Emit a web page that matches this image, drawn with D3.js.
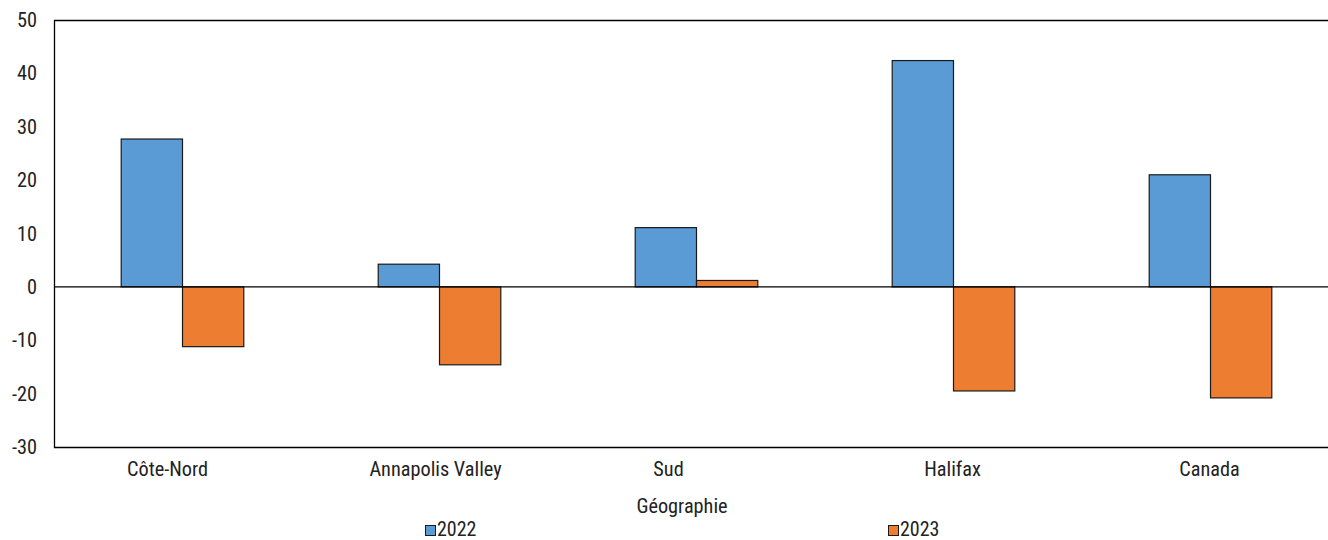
<!DOCTYPE html>
<html><head><meta charset="utf-8">
<script src="https://cdn.jsdelivr.net/npm/d3@7"></script>
<style>body{margin:0;background:#fff}svg{display:block}text{font-family:"Roboto Condensed","Liberation Sans Narrow",Roboto,sans-serif;fill:#222}</style>
</head><body>
<svg id="c" width="1328" height="540"></svg>
<script>
const categories = ["Côte-Nord","Annapolis Valley","Sud","Halifax","Canada"];
const seriesNames = ["2022","2023"];
const values2022 = [27.7, 4.25, 11.1, 42.4, 21.0];
const values2023 = [-11.2, -14.6, 1.2, -19.5, -20.8];
const yTicks = [-30,-20,-10,0,10,20,30,40,50];
const colors = ["#5B9BD5","#ED7D31"];

const FONT = '"Roboto Condensed","Liberation Sans Narrow",Roboto,sans-serif';
const FS = 20.3;
const svg = d3.select("#c");
const L = 54, R = 1339, T = 20, B = 447;
const x = d3.scaleBand().domain(categories).range([L,R]).paddingInner(0.523).paddingOuter(0.2615);
const xs = d3.scaleBand().domain(seriesNames).range([0, x.bandwidth()]);
const y = d3.scaleLinear().domain([-30,50]).range([B,T]);
// label shifts as seen in the reference (layout, not data)
const labelShift = [-15,-4,-28,-1,-1];

// frame
svg.append("path").attr("d",`M${R},${T+0.5}H${L+0.5}V${B+0.5}H${R}`).attr("fill","none").attr("stroke","#000").attr("stroke-width",1.3);

// y axis labels
const yAxis = d3.axisLeft(y).tickValues(yTicks).tickSize(0).tickPadding(17).tickFormat(d=>String(d));
const ga = svg.append("g").attr("transform",`translate(${L},0)`).call(yAxis);
ga.select(".domain").remove();
ga.selectAll("text").attr("font-size",FS).style("font-family",FONT).attr("fill","#222");

const data = [values2022, values2023];
seriesNames.forEach((s,i)=>{
  svg.append("g").selectAll("rect").data(categories).join("rect")
    .attr("x", c=>x(c)+xs(s))
    .attr("width", xs.bandwidth())
    .attr("y", (c,j)=>y(Math.max(0,data[i][j])))
    .attr("height",(c,j)=>Math.abs(y(data[i][j])-y(0)))
    .attr("fill",colors[i]).attr("stroke","#1a1a1a").attr("stroke-width",1.2);
});

// zero line
svg.append("line").attr("x1",L).attr("x2",R).attr("y1",y(0)).attr("y2",y(0)).attr("stroke","#000").attr("stroke-width",1.2);

// x labels
const xAxis = d3.axisBottom(x).tickSize(0).tickPadding(15);
const gx = svg.append("g").attr("transform",`translate(0,${B})`).call(xAxis);
gx.select(".domain").remove();
gx.selectAll("text").attr("font-size",FS).style("font-family",FONT).attr("fill","#222")
  .attr("dx",(d,i)=>labelShift[i]);

svg.append("text").attr("x",682).attr("y",513).attr("text-anchor","middle").attr("font-size",FS).text("Géographie");

// legend
const legX = [425, 888];
seriesNames.forEach((s,i)=>{
  svg.append("rect").attr("x",legX[i]+0.5).attr("y",525.5).attr("width",10).attr("height",10).attr("fill",colors[i]).attr("stroke","#1a1a1a").attr("stroke-width",1);
  svg.append("text").attr("x",legX[i]+12).attr("y",535.5).attr("font-size",20).text(s);
});
</script>
</body></html>
